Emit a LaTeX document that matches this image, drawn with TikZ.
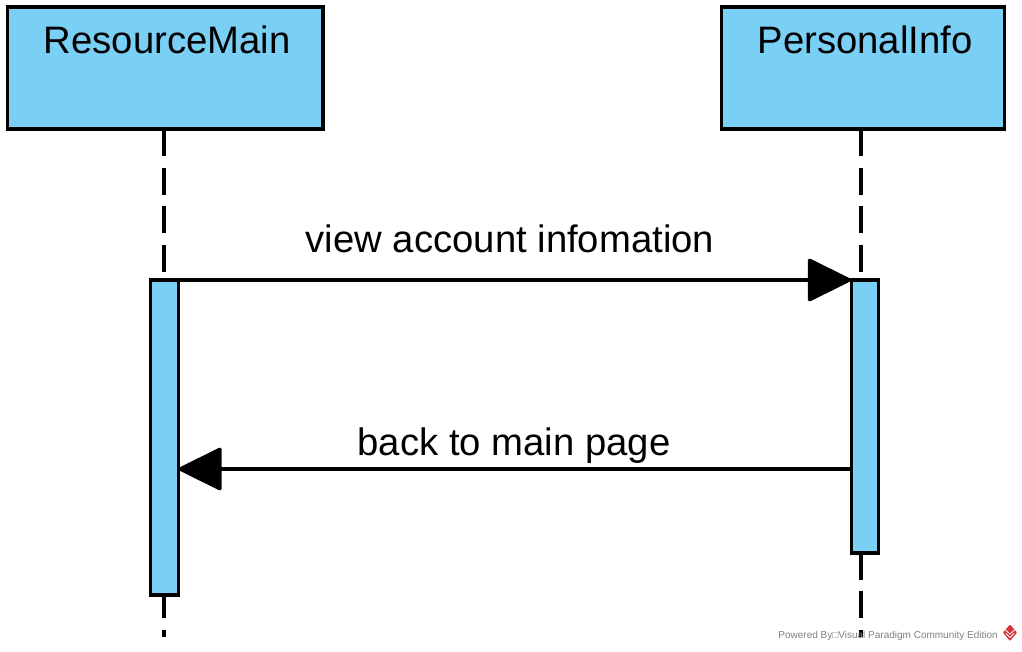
\documentclass[tikz,border=0pt]{standalone}
\usepackage{fontspec}
\setmainfont{Liberation Sans}
\usetikzlibrary{arrows.meta}
\definecolor{lifeblue}{RGB}{122,207,245}
\definecolor{logored}{RGB}{214,52,58}
\tikzset{
  headbox/.style={draw, fill=lifeblue, line width=2.3pt, inner sep=0pt, outer sep=0pt, text height=34.5pt, text depth=57pt, font=\fontsize{28.7}{30}\selectfont, execute at begin node=\hspace{3pt}},
  activebar/.style={draw, fill=lifeblue, line width=2.3pt, inner sep=0pt, outer sep=0pt, minimum width=20.8pt},
  lifeline/.style={line width=2.4pt, dash pattern=on 20.25pt off 8.63pt},
  msgline/.style={line width=2.5pt, -{Triangle[length=34pt, width=33pt, round]}},
  msglabel/.style={anchor=base, font=\fontsize{28.7}{30}\selectfont},
}
\begin{document}
\begin{tikzpicture}[line join=miter, x=0.75pt, y=-0.75pt]
\useasboundingbox (0,0) rectangle (1022,651);
\node[headbox, minimum width=236.6pt] (resourcemain) at (165.25,68) {ResourceMain};
\node[headbox, minimum width=212pt] (personalinfo) at (863,68) {PersonalInfo};
\coordinate (resourcefoot) at (164,637);
\coordinate (personalfoot) at (861,637);
% lifelines run behind the bars
\draw[lifeline] (resourcefoot |- resourcemain.south) -- (resourcefoot);
\draw[lifeline] (personalfoot |- personalinfo.south) -- (personalfoot);
\node[activebar, minimum height=236.25pt] (resourcebar) at (164.5,437.5) {};
\node[activebar, minimum height=204.75pt] (personalbar) at (865,416.5) {};
\coordinate (backfrom) at (personalbar.west |- 0,469);
\coordinate (backto) at (resourcebar.east |- 0,469);
\draw[msgline] (resourcebar.north east) -- (personalbar.north west) node[msglabel] (viewlabel) at (510,252) {view account infomation};
\draw[msgline] (backfrom) -- (backto) node[msglabel] (backlabel) at (514,455) {back to main page};
% footer mark
\node[anchor=base east, text=gray, font=\fontsize{7.5}{8}\selectfont, inner sep=0pt] (poweredby) at (998,638) {Powered By□Visual Paradigm Community Edition};
\fill[logored, rounded corners=0.5pt] (1010,624.5) -- (1017,632.5) -- (1010,641) -- (1003,632.5) -- cycle;
\draw[white, line width=0.6pt] (1006,633.5) -- (1010,637.5) -- (1014,633.5) (1005.5,630) -- (1010,634) -- (1014.5,630);
\end{tikzpicture}
\end{document}
